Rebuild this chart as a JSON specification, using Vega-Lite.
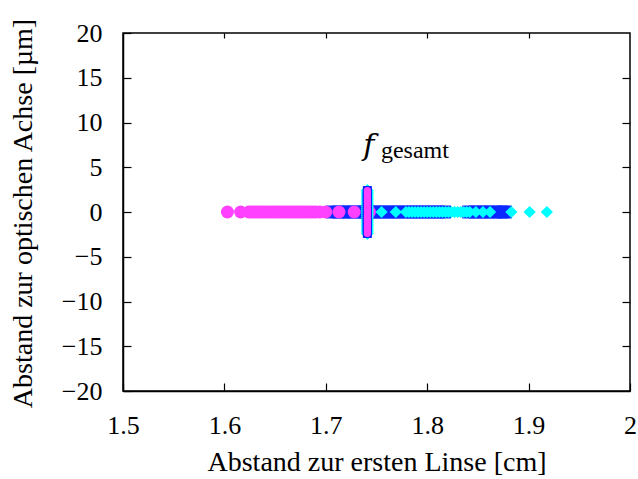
{
  "$schema": "https://vega.github.io/schema/vega-lite/v6.json",
  "width": 507,
  "height": 358,
  "autosize": "none",
  "padding": {"left": 123, "top": 33, "right": 8, "bottom": 88},
  "background": "white",
  "config": {
    "font": "Liberation Serif",
    "view": {"stroke": "black", "strokeWidth": 1.5},
    "axis": {
      "grid": false,
      "domainColor": "black",
      "domainWidth": 1.5,
      "tickColor": "black",
      "tickWidth": 1.2,
      "labelColor": "black",
      "titleColor": "black",
      "labelFont": "Liberation Serif",
      "titleFont": "Liberation Serif",
      "labelFontSize": 26,
      "titleFontSize": 28,
      "titleFontWeight": "normal",
      "labelFlush": false,
      "labelOverlap": false
    }
  },
  "datasets": {
    "mag": [
      {"x": 1.603, "y": 0}, {"x": 1.616, "y": 0}, {"x": 1.624, "y": 0}, {"x": 1.627, "y": 0},
      {"x": 1.630, "y": 0}, {"x": 1.633, "y": 0}, {"x": 1.636, "y": 0}, {"x": 1.639, "y": 0},
      {"x": 1.642, "y": 0}, {"x": 1.645, "y": 0}, {"x": 1.648, "y": 0}, {"x": 1.651, "y": 0},
      {"x": 1.654, "y": 0}, {"x": 1.657, "y": 0}, {"x": 1.660, "y": 0}, {"x": 1.663, "y": 0},
      {"x": 1.666, "y": 0}, {"x": 1.669, "y": 0}, {"x": 1.672, "y": 0}, {"x": 1.675, "y": 0},
      {"x": 1.678, "y": 0}, {"x": 1.681, "y": 0}, {"x": 1.684, "y": 0}, {"x": 1.687, "y": 0},
      {"x": 1.690, "y": 0}, {"x": 1.694, "y": 0}, {"x": 1.700, "y": 0}, {"x": 1.713, "y": 0},
      {"x": 1.728, "y": 0}, {"x": 1.743, "y": 0}
    ],
    "blu": [
      {"x": 1.7065, "y": 0}, {"x": 1.713, "y": 0}, {"x": 1.7195, "y": 0}, {"x": 1.726, "y": 0},
      {"x": 1.7325, "y": 0}, {"x": 1.739, "y": 0}, {"x": 1.7455, "y": 0}, {"x": 1.752, "y": 0},
      {"x": 1.7585, "y": 0}, {"x": 1.765, "y": 0}, {"x": 1.7715, "y": 0}, {"x": 1.778, "y": 0},
      {"x": 1.7845, "y": 0}, {"x": 1.791, "y": 0}, {"x": 1.7975, "y": 0}, {"x": 1.804, "y": 0},
      {"x": 1.8105, "y": 0}, {"x": 1.817, "y": 0}, {"x": 1.841, "y": 0}, {"x": 1.8475, "y": 0},
      {"x": 1.854, "y": 0}, {"x": 1.8605, "y": 0}, {"x": 1.867, "y": 0}, {"x": 1.8735, "y": 0},
      {"x": 1.877, "y": 0}
    ],
    "cya": [
      {"x": 1.755, "y": 0}, {"x": 1.769, "y": 0}, {"x": 1.779, "y": 0}, {"x": 1.782, "y": 0},
      {"x": 1.785, "y": 0}, {"x": 1.788, "y": 0}, {"x": 1.791, "y": 0}, {"x": 1.794, "y": 0},
      {"x": 1.797, "y": 0}, {"x": 1.800, "y": 0}, {"x": 1.803, "y": 0}, {"x": 1.806, "y": 0},
      {"x": 1.809, "y": 0}, {"x": 1.812, "y": 0}, {"x": 1.815, "y": 0}, {"x": 1.818, "y": 0},
      {"x": 1.821, "y": 0}, {"x": 1.824, "y": 0}, {"x": 1.827, "y": 0}, {"x": 1.830, "y": 0},
      {"x": 1.833, "y": 0}, {"x": 1.836, "y": 0}, {"x": 1.839, "y": 0}, {"x": 1.842, "y": 0},
      {"x": 1.848, "y": 0}, {"x": 1.855, "y": 0}, {"x": 1.862, "y": 0}, {"x": 1.883, "y": 0},
      {"x": 1.901, "y": 0}, {"x": 1.918, "y": 0}
    ],
    "strip": [
      {"x": 1.741, "y": -2.4}, {"x": 1.741, "y": -2.2}, {"x": 1.741, "y": -2.0}, {"x": 1.741, "y": -1.8},
      {"x": 1.741, "y": -1.6}, {"x": 1.741, "y": -1.4}, {"x": 1.741, "y": -1.2}, {"x": 1.741, "y": -1.0},
      {"x": 1.741, "y": -0.8}, {"x": 1.741, "y": -0.6}, {"x": 1.741, "y": -0.4}, {"x": 1.741, "y": -0.2},
      {"x": 1.741, "y": 0.0}, {"x": 1.741, "y": 0.2}, {"x": 1.741, "y": 0.4}, {"x": 1.741, "y": 0.6},
      {"x": 1.741, "y": 0.8}, {"x": 1.741, "y": 1.0}, {"x": 1.741, "y": 1.2}, {"x": 1.741, "y": 1.4},
      {"x": 1.741, "y": 1.6}, {"x": 1.741, "y": 1.8}, {"x": 1.741, "y": 2.0}, {"x": 1.741, "y": 2.2},
      {"x": 1.741, "y": 2.4}
    ],
    "lab": [
      {"x": 1.7425, "y": 6.4, "t": "f", "s": "gesamt"}
    ]
  },
  "resolve": {"axis": {"x": "independent", "y": "independent"}},
  "layer": [
    {
      "data": {"name": "blu"},
      "mark": {"type": "point", "shape": "square", "filled": true, "opacity": 1, "size": 169, "color": "#0a28ff", "strokeWidth": 0},
      "encoding": {
        "x": {"field": "x", "type": "quantitative", "scale": {"domain": [1.5, 2], "nice": false, "zero": false},
          "axis": {"values": [1.5, 1.6, 1.7, 1.8, 1.9, 2], "format": "~g", "tickSize": -8, "labelPadding": 29,
            "title": "Abstand zur ersten Linse [cm]", "titleX": 253.5, "titleY": 71, "titleBaseline": "middle", "titleAlign": "center"}},
        "y": {"field": "y", "type": "quantitative", "scale": {"domain": [-20, 20], "nice": false, "zero": false},
          "axis": {"values": [-20, -15, -10, -5, 0, 5, 10, 15, 20], "tickSize": -8, "labelPadding": 29,
            "title": "Abstand zur optischen Achse [µm]", "titleX": -100, "titleY": 180, "titleBaseline": "middle", "titleAlign": "center", "titleAngle": -90}}
      }
    },
    {
      "data": {"name": "cya"},
      "mark": {"type": "point", "shape": "diamond", "filled": true, "opacity": 1, "size": 150, "color": "#00ffff", "strokeWidth": 0},
      "encoding": {
        "x": {"field": "x", "type": "quantitative", "scale": {"domain": [1.5, 2], "nice": false, "zero": false},
          "axis": {"orient": "top", "values": [1.6, 1.7, 1.8, 1.9], "labels": false, "title": null, "tickSize": -5, "domain": false}},
        "y": {"field": "y", "type": "quantitative", "scale": {"domain": [-20, 20], "nice": false, "zero": false},
          "axis": {"orient": "right", "values": [-15, -10, -5, 0, 5, 10, 15], "labels": false, "title": null, "tickSize": -8, "domain": false}}
      }
    },
    {
      "data": {"name": "mag"},
      "mark": {"type": "point", "shape": "circle", "filled": true, "opacity": 1, "size": 169, "color": "#ff40ff", "strokeWidth": 0},
      "encoding": {
        "x": {"field": "x", "type": "quantitative", "axis": null},
        "y": {"field": "y", "type": "quantitative", "axis": null}
      }
    },
    {
      "data": {"name": "strip"},
      "mark": {"type": "point", "shape": "diamond", "filled": true, "opacity": 1, "size": 169, "color": "#00ffff", "strokeWidth": 0},
      "encoding": {
        "x": {"field": "x", "type": "quantitative", "axis": null},
        "y": {"field": "y", "type": "quantitative", "axis": null}
      }
    },
    {
      "data": {"name": "strip"},
      "mark": {"type": "point", "shape": "square", "filled": true, "opacity": 1, "size": 81, "color": "#0a28ff", "strokeWidth": 0},
      "encoding": {
        "x": {"field": "x", "type": "quantitative", "axis": null},
        "y": {"field": "y", "type": "quantitative", "axis": null}
      }
    },
    {
      "data": {"name": "strip"},
      "mark": {"type": "point", "shape": "circle", "filled": true, "opacity": 1, "size": 49, "color": "#ff40ff", "strokeWidth": 0},
      "encoding": {
        "x": {"field": "x", "type": "quantitative", "axis": null},
        "y": {"field": "y", "type": "quantitative", "axis": null}
      }
    },
    {
      "data": {"name": "lab"},
      "mark": {"type": "text", "font": "DejaVu Serif", "fontStyle": "italic", "fontSize": 30, "align": "center", "baseline": "alphabetic", "color": "black"},
      "encoding": {
        "x": {"field": "x", "type": "quantitative", "axis": null},
        "y": {"field": "y", "type": "quantitative", "axis": null},
        "text": {"field": "t"}
      }
    },
    {
      "data": {"name": "lab"},
      "mark": {"type": "text", "font": "Liberation Serif", "fontSize": 24, "align": "left", "baseline": "alphabetic", "dx": 12, "dy": 3, "color": "black"},
      "encoding": {
        "x": {"field": "x", "type": "quantitative", "axis": null},
        "y": {"field": "y", "type": "quantitative", "axis": null},
        "text": {"field": "s"}
      }
    }
  ]
}
